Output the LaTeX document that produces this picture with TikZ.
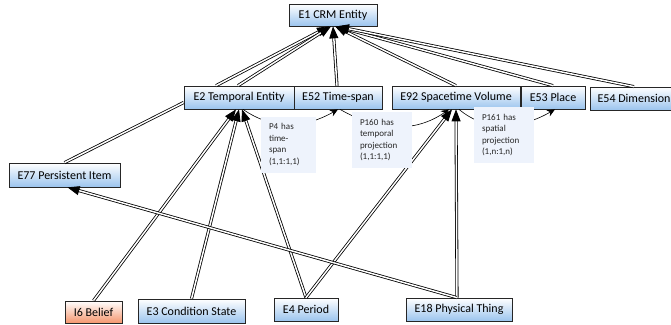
\documentclass[tikz,border=0pt]{standalone}
\usepackage{fontspec}
\setmainfont{Carlito}
\usetikzlibrary{arrows.meta}

\definecolor{entblue}{RGB}{155,196,238}
\definecolor{beliefred}{RGB}{245,150,110}
\definecolor{notefill}{RGB}{238,243,252}

\begin{document}
\begin{tikzpicture}[x=1pt,y=-1pt,
    ent/.style={draw=black!85, line width=0.7pt, top color=white, bottom color=entblue,
        minimum height=23pt, inner sep=0pt, font=\fontsize{12}{14}\selectfont},
    isa/.style={double=white, double distance=1.5pt, line width=0.8pt,
        -{Triangle[length=12pt,width=9pt]}},
    rel/.style={line width=0.6pt, -{Stealth[length=8pt,width=7pt]}},
    note/.style={fill=notefill, text=black!85, align=left, inner xsep=8pt, inner ysep=7pt,
        font=\fontsize{9}{11.5}\selectfont}]
    \useasboundingbox (0,0) rectangle (671,324);

    % top class
    \node[ent, minimum width=88pt, minimum height=22pt] (e1) at (333,15) {E1 CRM Entity};

    % second row
    \node[ent, minimum width=110pt] (e2) at (239,97.5) {E2 Temporal Entity};
    \node[ent, minimum width=88pt] (e52) at (338,97.5) {E52 Time-span};
    \node[ent, minimum width=128pt] (e92) at (456,97.5) {E92 Spacetime Volume};
    \node[ent, minimum width=64pt] (e53) at (553,97.5) {E53 Place};
    \node[ent, minimum width=88pt] (e54) at (634,98.5) {E54 Dimension};

    % middle
    \node[ent, minimum width=111pt, minimum height=24pt] (e77) at (64.5,175) {E77 Persistent Item};

    % bottom row
    \node[ent, bottom color=beliefred, minimum width=57pt, minimum height=22pt] (i6) at (93.5,312) {I6 Belief};
    \node[ent, minimum width=107pt, minimum height=24pt] (e3) at (191.5,311) {E3 Condition State};
    \node[ent, minimum width=64pt] (e4) at (306,309.5) {E4 Period};
    \node[ent, minimum width=106pt] (e18) at (459,309.5) {E18 Physical Thing};

    % isA links up to E1
    \draw[isa] ([xshift=-23pt]e2.north) -- ([xshift=-4pt]e1.south);
    \draw[isa] ([xshift=-1pt]e2.north) -- ([xshift=-2pt]e1.south);
    \draw[isa] ([xshift=-1pt]e52.north) -- (e1.south);
    \draw[isa] (e92.north) -- ([xshift=2pt]e1.south);
    \draw[isa] (e53.north) -- ([xshift=3pt]e1.south);
    \draw[isa] (e54.north) -- ([xshift=4pt]e1.south);

    % isA links from the bottom
    \draw[double=white, double distance=1.5pt, line width=0.8pt] (e77.north) -- ([yshift=-5pt]e2.west);
    \draw[isa] (i6.north) -- ([xshift=-3pt]e2.south);
    \draw[isa] (e3.north) -- (e2.south);
    \draw[isa] (e4.north) -- ([xshift=3pt]e2.south);
    \draw[isa] (e4.north) -- ([xshift=-4pt]e92.south);
    \draw[isa] ([xshift=-2pt]e18.north) -- (e92.south);
    \draw[isa] ([xshift=-2pt]e18.north) -- ([xshift=3pt]e77.south);

    % properties
    \draw[rel] ([xshift=4pt]e2.south) to[out=-35,in=-150] (e52.south);
    \draw[rel] ([xshift=2pt]e52.south) to[out=-30,in=-145] ([xshift=-7pt]e92.south);
    \draw[rel] ([xshift=3pt]e92.south) to[out=-40,in=-150] ([xshift=2pt]e53.south);

    \node[note, text width=39pt] (p4) at (288.5,144.5) {P4 has\\time-\\span\\(1,1:1,1)};
    \node[note, text width=44pt] (p160) at (382,140) {P160 has\\temporal\\projection\\(1,1:1,1)};
    \node[note, text width=44pt] (p161) at (504,135) {P161 has\\spatial\\projection\\(1,n:1,n)};
\end{tikzpicture}
\end{document}
